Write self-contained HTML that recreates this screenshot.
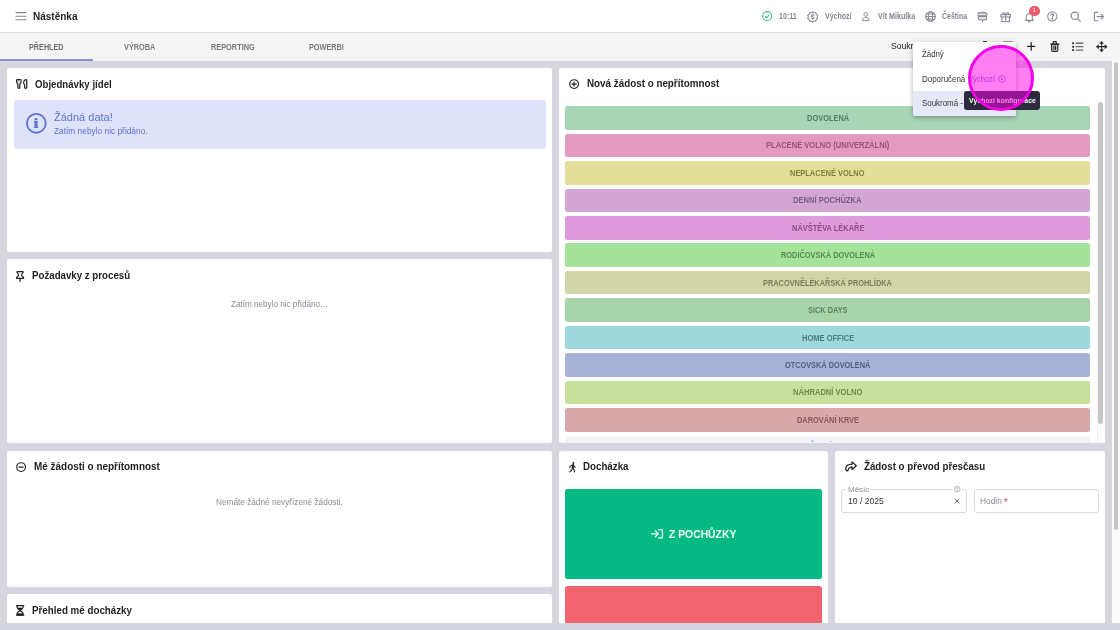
<!DOCTYPE html>
<html lang="cs">
<head>
<meta charset="utf-8">
<title>Nástěnka</title>
<style>
*{box-sizing:border-box;margin:0;padding:0}
html,body{width:1120px;height:630px;overflow:hidden;background:#d6d6e0}
body{font-family:"Liberation Sans",sans-serif;position:relative}
ul{list-style:none}
h1,h2{font-size:inherit;font-weight:inherit}
.t{position:absolute;line-height:1;white-space:nowrap;transform-origin:0 50%;display:block}
.i{position:absolute;display:block;overflow:visible}
.i circle,.i ellipse{stroke-linecap:butt}
.hdr{position:absolute;left:0;top:0;width:1120px;height:32.5px;background:#fff;border-bottom:1px solid #dedede}
.tabs{position:absolute;left:0;top:32.5px;width:1120px;height:28.5px;background:#f5f5f5}
.tabs .ul{position:absolute;left:0;top:26.3px;width:93.3px;height:2.2px;background:#8791cc}
.card{position:absolute;background:#fff;border-radius:2px}
.alert{position:absolute;left:14.3px;top:100.4px;width:531.4px;height:48.2px;background:#dfe3fa;border-radius:3px}
.ab{position:absolute;left:565.3px;width:525px;height:23.6px;border-radius:2.5px}
.sbo{position:absolute;left:1112px;top:61px;width:8px;height:562px;background:#fbfbfb}
.sbo i{position:absolute;left:2px;top:1.4px;width:4.2px;height:468px;border-radius:2.1px;background:#c4c4c4}
.sbi{position:absolute;left:1096.7px;top:100px;width:8.3px;height:343px;background:#fff;border-left:1px solid #f0f0f0}
.sbi i{position:absolute;left:0.6px;top:2px;width:4.6px;height:321.5px;border-radius:2.3px;background:#c5c5c5}
.gbtn{position:absolute;left:565.3px;top:489px;width:257.1px;height:90.1px;background:#05b983;border-radius:2.5px}
.rbtn{position:absolute;left:565.3px;top:586.3px;width:257.1px;height:36.4px;background:#f2646f;border-radius:2.5px 2.5px 0 0}
.fld{position:absolute;top:489.1px;height:24.2px;border:1px solid #dadade;border-radius:3px;background:#fff}
.notch{position:absolute;top:488.5px;height:3px;background:#fff}
.menu{position:absolute;left:912.6px;top:41.6px;width:103.2px;height:74.2px;background:#fff;border-radius:2.5px;box-shadow:0 2px 4px rgba(0,0,0,.2),0 1px 7px rgba(0,0,0,.12)}
.menu .sel{position:absolute;left:0;top:49.6px;width:100%;height:24.6px;background:#e6e8f7;border-radius:0 0 2.5px 2.5px}
.tip{position:absolute;left:964.4px;top:91px;width:75.8px;height:18.6px;background:#2b2b3c;border-radius:3px}
.clk{position:absolute;left:967.8px;top:44.9px;width:66.2px;height:66.2px;border-radius:50%;background:rgba(255,0,232,.5);border:3px solid #f500e4}
.badge{position:absolute;left:1029.2px;top:5.8px;width:10.4px;height:10.4px;border-radius:50%;background:#f0596b}
.tk{position:absolute;top:40.9px;height:1.1px;border-radius:.5px}
.clip13{position:absolute;left:0;top:0;width:525px;height:7.5px;overflow:hidden}
</style>
</head>
<body>

<header class="hdr">
  <svg class="i" style="left:16.00px;top:11.80px;width:10px;height:8.4px;" viewBox="0 0 10 8.400" fill="none" stroke="#858590" stroke-width="1.1" stroke-linecap="round" stroke-linejoin="round"><path d="M0 .6h10M0 4.200h10M0 7.800h10"/></svg>
  <h1><span class="t" style="left:32.70px;top:10.59px;font-size:11.0px;font-weight:700;color:#1f1f1f;transform:scaleX(0.9096);">Nástěnka</span></h1>
  <svg class="i" style="left:761.70px;top:11.20px;width:10.4px;height:10.4px;" viewBox="0 0 24 24" fill="none" stroke="#45b98e" stroke-width="2.5" stroke-linecap="round" stroke-linejoin="round"><circle cx="12" cy="12" r="10.5"/><path d="M7.5 12.3l3.2 3.2 5.8-6.3"/></svg>
  <span class="t" style="left:778.80px;top:12.19px;font-size:8.4px;font-weight:700;color:#858591;transform:scaleX(0.8489);">10:11</span>
  <svg class="i" style="left:806.70px;top:10.60px;width:11.4px;height:11.4px;" viewBox="0 0 24 24" fill="none" stroke="#878796" stroke-width="2.2" stroke-linecap="round" stroke-linejoin="round"><path d="M12 1.6l2.9 2.1 3.6-.1 1.1 3.4 2.9 2.1-1.2 3.4 1.2 3.4-2.9 2.1-1.1 3.4-3.6-.1-2.9 2.1-2.9-2.1-3.6.1-1.1-3.4-2.9-2.1 1.2-3.4-1.2-3.4 2.9-2.100 1.100-3.400 3.600.1z"/><path d="M14.600 9.300c-.4-1-1.400-1.500-2.600-1.500-1.500 0-2.600.8-2.600 2s1 1.700 2.600 2.100 2.700 1 2.700 2.200-1.200 2.100-2.700 2.100c-1.300 0-2.400-.6-2.800-1.700M12 6.200v1.600M12 16.200v1.600"/></svg>
  <span class="t" style="left:824.60px;top:12.19px;font-size:8.4px;font-weight:700;color:#858591;transform:scaleX(0.8340);">Výchozí</span>
  <svg class="i" style="left:861.20px;top:11.10px;width:9.6px;height:10.4px;" viewBox="0 0 24 24" fill="none" stroke="#878796" stroke-width="2.4" stroke-linecap="round" stroke-linejoin="round"><circle cx="12" cy="7.500" r="4.700"/><path d="M3.500 22c0-4.400 3.600-7 8.500-7s8.500 2.600 8.500 7z"/></svg>
  <span class="t" style="left:877.60px;top:12.19px;font-size:8.4px;font-weight:700;color:#858591;transform:scaleX(0.8526);">Vít Mikulka</span>
  <svg class="i" style="left:924.80px;top:10.80px;width:11px;height:11px;" viewBox="0 0 24 24" fill="none" stroke="#878796" stroke-width="2.2" stroke-linecap="round" stroke-linejoin="round"><circle cx="12" cy="12" r="10.500"/><ellipse cx="12" cy="12" rx="4.600" ry="10.500"/><path d="M1.500 12h21M3.200 6.500h17.600M3.200 17.500h17.600"/></svg>
  <span class="t" style="left:941.90px;top:12.19px;font-size:8.4px;font-weight:700;color:#858591;transform:scaleX(0.8293);">Čeština</span>
  <svg class="i" style="left:976.80px;top:10.50px;width:11px;height:11.6px;" viewBox="0 0 24 24" fill="none" stroke="#878796" stroke-width="2.3" stroke-linecap="round" stroke-linejoin="round"><path d="M12 1v2.500M12 18.500v4.500M12 10v1.500M2.500 3.500h17l2.500 3.300-2.500 3.200h-17zM20.500 11.500h-16l-2.500 3.500 2.500 3.500h16z" fill="#e4e4ea"/></svg>
  <svg class="i" style="left:1000.00px;top:10.60px;width:11.4px;height:11.4px;" viewBox="0 0 24 24" fill="none" stroke="#878796" stroke-width="2.3" stroke-linecap="round" stroke-linejoin="round"><rect x="2" y="7.500" width="20" height="5" fill="#ececf1"/><path d="M4 12.500v9.500h16v-9.500M12 7.500V22M12 7.500C10 3 6 2.500 6 5.200s4 2.300 6 2.300zM12 7.500c2-4.500 6-5 6-2.300s-4 2.300-6 2.300z"/></svg>
  <svg class="i" style="left:1023.50px;top:11.70px;width:10.6px;height:10.6px;" viewBox="0 0 24 24" fill="none" stroke="#878796" stroke-width="2.4" stroke-linecap="round" stroke-linejoin="round"><path d="M5 17.500V11c0-4 3-7 7-7s7 3 7 7v6.500l2 1.500H3zM12 4V2M10 21.500c.5.700 1.200 1 2 1s1.500-.3 2-1"/></svg>
  <span class="badge"></span><span class="t" style="left:1033.30px;top:8.26px;font-size:5.6px;font-weight:700;color:#fff;transform:scaleX(0.7680);">1</span>
  <svg class="i" style="left:1047.00px;top:11.10px;width:10.6px;height:10.6px;color:#878796" viewBox="0 0 24 24" fill="none" stroke="#878796" stroke-width="2.4" stroke-linecap="round" stroke-linejoin="round"><circle cx="12" cy="12" r="10.500"/><path d="M8.800 9.500c0-1.900 1.400-3.200 3.200-3.200s3.200 1.300 3.200 3c0 2.200-3.200 2.300-3.200 4.400" stroke-width="2.800"/><circle cx="12" cy="17.500" r="1" fill="currentColor"/></svg>
  <svg class="i" style="left:1070.00px;top:11.00px;width:11px;height:11px;" viewBox="0 0 24 24" fill="none" stroke="#878796" stroke-width="2.5" stroke-linecap="round" stroke-linejoin="round"><circle cx="10.500" cy="10.500" r="8"/><path d="M16.500 16.500L22.500 22.500"/></svg>
  <svg class="i" style="left:1093.20px;top:10.60px;width:11.2px;height:11.2px;" viewBox="0 0 24 24" fill="none" stroke="#878796" stroke-width="2.5" stroke-linecap="round" stroke-linejoin="round"><path d="M10 3H4.500C3.700 3 3 3.700 3 4.500v15c0 .8.700 1.500 1.500 1.500H10M9 12h13M17.500 7l5 5-5 5"/></svg>
</header>

<nav class="tabs">
  <ul>
    <li><span class="t" style="left:29.40px;top:10.09px;font-size:8.4px;font-weight:700;color:#6f6f6f;transform:scaleX(0.8643);">PŘEHLED</span></li>
    <li><span class="t" style="left:124.40px;top:10.09px;font-size:8.4px;font-weight:700;color:#7a7a7a;transform:scaleX(0.8732);">VÝROBA</span></li>
    <li><span class="t" style="left:211.40px;top:10.09px;font-size:8.4px;font-weight:700;color:#7a7a7a;transform:scaleX(0.8776);">REPORTING</span></li>
    <li><span class="t" style="left:309.40px;top:10.09px;font-size:8.4px;font-weight:700;color:#7a7a7a;transform:scaleX(0.8697);">POWERBI</span></li>
  </ul>
  <span class="ul"></span>
  <span class="t" style="left:890.70px;top:9.97px;font-size:8.9px;font-weight:400;color:#222;transform:scaleX(0.9674);">Soukromá - Výchozí</span>
  <svg class="i" style="left:1027.00px;top:9.70px;width:8.40px;height:8.80px;" viewBox="0 0 8.40 8.80" fill="none" stroke="#222" stroke-width="1.25" stroke-linecap="round" stroke-linejoin="round"><path d="M4.200 .6V8.200M.6 4.400H7.800"/></svg>
  <svg class="i" style="left:1049.90px;top:8.50px;width:9.50px;height:11.10px;" viewBox="0 0 9.50 11.10" fill="none" stroke="#222" stroke-width="1.15" stroke-linecap="round" stroke-linejoin="round"><path d="M1.700 3.300H7.800V9.200Q7.800 10.400 6.600 10.400H2.900Q1.700 10.400 1.700 9.200Z" fill="#dadada"/><path d="M.7 3.200H8.800M3.200 3V1.500Q3.200 .7 4 .7H5.500Q6.300 .7 6.300 1.500V3M3.900 5.200V8.400M5.600 5.200V8.400"/></svg>
  <svg class="i" style="left:1072.30px;top:9.50px;width:11.50px;height:9.40px;" viewBox="0 0 11.50 9.40" fill="none" stroke="#222" stroke-width="1.35" stroke-linecap="round" stroke-linejoin="round"><path d="M4.200 1.300H10.900M4.200 4.700H10.900M4.200 8.100H10.900" stroke="#6a6a6a"/><path d="M1.100 1.300h.01M1.100 4.700h.01M1.100 8.100h.01" stroke-width="2.100"/></svg>
  <svg class="i" style="left:1095.80px;top:8.40px;width:11.40px;height:11.20px;" viewBox="0 0 11.40 11.20" fill="none" stroke="#222" stroke-width="1.1" stroke-linecap="round" stroke-linejoin="round"><path d="M5.700 1.500V9.700M1.500 5.600H9.900"/><path d="M5.700 .4L7.500 2.500H3.900ZM5.700 10.800L7.500 8.700H3.900ZM.4 5.600L2.500 3.800V7.400ZM11 5.600L8.900 3.800V7.400Z" fill="#222" stroke-width=".5"/></svg>
</nav>

<main>
  <section class="card" style="left:7.1px;top:67.8px;width:545px;height:183.9px">
    <svg class="i" style="left:9.10px;top:11.10px;width:11.4px;height:10px;" viewBox="0 0 11.400 10" fill="none" stroke="#222" stroke-width="1.25" stroke-linecap="round" stroke-linejoin="round"><path d="M1.300 .65h3.100q.65 0 .65.65v1.700q0 .8-.6 1.300l-.65.6v3.600q0 .85-.95.85t-.95-.85v-3.600l-.65-.6q-.6-.5-.6-1.300v-1.700q0-.65.65-.65z"/><path d="M1 1.200h3.700v1.300h-3.700z" fill="#999" stroke="none"/><path d="M10.750 1.500v7q0 .85-1.050.85t-1.050-.85v-2.200q0-.7-.5-1.200-.55-.6-.55-1.600 0-1.700 1.600-2.600.8-.45 1.200-.1.350.3.350.7z"/></svg>
    <h2><span class="t" style="left:27.60px;top:10.79px;font-size:11.0px;font-weight:700;color:#1f1f1f;transform:scaleX(0.8774);">Objednávky jídel</span></h2>
  </section>
  <div class="alert">
    <svg class="i" style="left:11.80px;top:13.00px;width:20.6px;height:20.6px;" viewBox="0 0 24 24" fill="none" stroke="#5c70d2" stroke-width="2.1" stroke-linecap="round" stroke-linejoin="round"><circle cx="12" cy="12" r="11"/></svg>
    <span class="t" style="left:19.20px;top:16.03px;font-size:14.5px;font-weight:700;color:#5c70d2;transform:scaleX(1.4636);font-family:'Liberation Serif',serif;">i</span>
    <span class="t" style="left:40.00px;top:11.22px;font-size:11.2px;font-weight:400;color:#5c70d2;transform:scaleX(0.9846);">Žádná data!</span>
    <span class="t" style="left:40.00px;top:26.30px;font-size:8.5px;font-weight:400;color:#5c70d2;transform:scaleX(0.9806);">Zatím nebylo nic přidáno.</span>
  </div>

  <section class="card" style="left:7.1px;top:258.9px;width:545px;height:184.2px">
    <svg class="i" style="left:9.00px;top:12.10px;width:8.20px;height:10.80px;" viewBox="0 0 8.20 10.80" fill="none" stroke="#222" stroke-width="1.25" stroke-linecap="round" stroke-linejoin="round"><path d="M1.400 .7H6.800Q7.500 .7 7.100 1.400Q5.200 3.400 5.700 4.600L7.500 6.500Q7.900 7.500 7 7.500H1.200Q.3 7.500 .7 6.500L2.500 4.600Q3 3.400 1.100 1.400Q.7 .7 1.400 .7ZM4.100 7.500V10.300"/></svg>
    <h2><span class="t" style="left:24.80px;top:10.79px;font-size:11.0px;font-weight:700;color:#1f1f1f;transform:scaleX(0.8816);">Požadavky z procesů</span></h2>
    <span class="t" style="left:223.90px;top:40.92px;font-size:8.6px;font-weight:400;color:#8a8a96;transform:scaleX(0.9454);">Zatím nebylo nic přidáno…</span>
  </section>

  <section class="card" style="left:7.1px;top:450.5px;width:545px;height:136.6px">
    <svg class="i" style="left:9.30px;top:11.40px;width:10.2px;height:10.2px;" viewBox="0 0 24 24" fill="none" stroke="#222" stroke-width="2.7" stroke-linecap="round" stroke-linejoin="round"><circle cx="12" cy="12" r="10.300"/><path d="M7 12h10"/></svg>
    <h2><span class="t" style="left:27.00px;top:10.59px;font-size:11.0px;font-weight:700;color:#1f1f1f;transform:scaleX(0.9035);">Mé žádosti o nepřítomnost</span></h2>
    <span class="t" style="left:208.90px;top:47.12px;font-size:8.6px;font-weight:400;color:#8a8a96;transform:scaleX(0.9590);">Nemáte žádné nevyřízené žádosti.</span>
  </section>

  <section class="card" style="left:7.1px;top:593.9px;width:545px;height:29.2px;border-radius:2.5px 2.5px 0 0">
    <svg class="i" style="left:9.00px;top:11.00px;width:8.20px;height:10.80px;" viewBox="0 0 8.20 10.80" fill="none" stroke="#222" stroke-width="1.15" stroke-linecap="round" stroke-linejoin="round"><path d="M.4 .6H7.800M.4 10.200H7.800M1.100 .6V2.500Q1.100 3.600 4.100 5.400Q7.100 3.600 7.100 2.500V.6M1.100 10.200V8.300Q1.100 7.200 4.100 5.400Q7.100 7.200 7.100 8.300V10.200"/><path d="M1.700 3H6.500Q5.500 4.200 4.100 5Q2.700 4.200 1.700 3ZM1.300 10V8.700H6.900V10Z" fill="#111" stroke-width=".6"/></svg>
    <h2><span class="t" style="left:24.80px;top:10.69px;font-size:11.0px;font-weight:700;color:#1f1f1f;transform:scaleX(0.8889);">Přehled mé docházky</span></h2>
  </section>

  <section class="card" style="left:559.4px;top:67.8px;width:545.4px;height:375.3px"></section>
  <svg class="i" style="left:568.80px;top:79.10px;width:10.2px;height:10.2px;" viewBox="0 0 24 24" fill="none" stroke="#222" stroke-width="2.7" stroke-linecap="round" stroke-linejoin="round"><circle cx="12" cy="12" r="10.300"/><path d="M7 12h10M12 7v10"/></svg>
  <h2><span class="t" style="left:586.60px;top:78.09px;font-size:11.0px;font-weight:700;color:#1f1f1f;transform:scaleX(0.8938);">Nová žádost o nepřítomnost</span></h2>
  <ul>
<li class="ab" style="top:106.15px;background:#a8d5b7"><span class="t" style="left:241.40px;top:7.82px;font-size:8.6px;font-weight:700;color:#4f7d62;transform:scaleX(0.8665);">DOVOLENÁ</span></li>
<li class="ab" style="top:133.60px;background:#e29bbf"><span class="t" style="left:200.70px;top:7.82px;font-size:8.6px;font-weight:700;color:#9a4f78;transform:scaleX(0.8814);">PLACENÉ VOLNO (UNIVERZÁLNÍ)</span></li>
<li class="ab" style="top:161.05px;background:#e3df9b"><span class="t" style="left:225.10px;top:7.82px;font-size:8.6px;font-weight:700;color:#827e42;transform:scaleX(0.8668);">NEPLACENÉ VOLNO</span></li>
<li class="ab" style="top:188.50px;background:#d3a6d6"><span class="t" style="left:228.00px;top:7.82px;font-size:8.6px;font-weight:700;color:#7a5a80;transform:scaleX(0.8801);">DENNÍ POCHŮZKA</span></li>
<li class="ab" style="top:215.95px;background:#df9bdb"><span class="t" style="left:226.30px;top:7.82px;font-size:8.6px;font-weight:700;color:#884e86;transform:scaleX(0.8664);">NÁVŠTĚVA LÉKAŘE</span></li>
<li class="ab" style="top:243.40px;background:#a7e29b"><span class="t" style="left:215.40px;top:7.82px;font-size:8.6px;font-weight:700;color:#57884e;transform:scaleX(0.8615);">RODIČOVSKÁ DOVOLENÁ</span></li>
<li class="ab" style="top:270.85px;background:#d1d5a8"><span class="t" style="left:198.00px;top:7.82px;font-size:8.6px;font-weight:700;color:#7a7d56;transform:scaleX(0.8598);">PRACOVNĚLÉKAŘSKÁ PROHLÍDKA</span></li>
<li class="ab" style="top:298.30px;background:#a7d5a9"><span class="t" style="left:242.50px;top:7.82px;font-size:8.6px;font-weight:700;color:#57805e;transform:scaleX(0.8584);">SICK DAYS</span></li>
<li class="ab" style="top:325.75px;background:#9dd8dc"><span class="t" style="left:236.30px;top:7.82px;font-size:8.6px;font-weight:700;color:#4a7b82;transform:scaleX(0.8746);">HOME OFFICE</span></li>
<li class="ab" style="top:353.20px;background:#a8b1d6"><span class="t" style="left:219.80px;top:7.82px;font-size:8.6px;font-weight:700;color:#555b84;transform:scaleX(0.8547);">OTCOVSKÁ DOVOLENÁ</span></li>
<li class="ab" style="top:380.65px;background:#c8e09b"><span class="t" style="left:227.70px;top:7.82px;font-size:8.6px;font-weight:700;color:#6d8848;transform:scaleX(0.8822);">NÁHRADNÍ VOLNO</span></li>
<li class="ab" style="top:408.10px;background:#d8a8aa"><span class="t" style="left:231.30px;top:7.82px;font-size:8.6px;font-weight:700;color:#83565a;transform:scaleX(0.8617);">DAROVÁNÍ KRVE</span></li>
<li class="ab" style="top:435.55px;background:#f3f3f7;height:7.5px;border-radius:2px 2px 0 0"><span class="clip13"><span class="t" style="left:231.20px;top:6.32px;font-size:8.6px;font-weight:700;color:#8890d6;transform:scaleX(0.8288);">SLUŽEBNÍ CESTA</span></span></li>
  </ul>
  <div class="sbi"><i></i></div>

  <section class="card" style="left:559.4px;top:450.5px;width:269px;height:172.5px;border-radius:2.5px 2.5px 0 0"></section>
  <svg class="i" style="left:568.70px;top:461.60px;width:6.70px;height:10.50px;" viewBox="0 0 6.70 10.50" fill="none" stroke="#222" stroke-width="1.1" stroke-linecap="round" stroke-linejoin="round"><circle cx="4.400" cy="1" r=".95" fill="#222" stroke="none"/><path d="M4.200 3L3.700 6.200" stroke-width="1.900"/><path d="M3.800 3L1.100 4.300L.8 5.700M4.600 3.400L5.500 4.900L6.200 5.300M3.600 6.300L2.400 8.500L.8 9.900M3.900 6.200L5.100 7.800L5.500 9.900" stroke-width="1.100"/></svg>
  <h2><span class="t" style="left:582.90px;top:460.79px;font-size:11.0px;font-weight:700;color:#1f1f1f;transform:scaleX(0.8859);">Docházka</span></h2>
  <div class="gbtn"></div>
  <svg class="i" style="left:651.00px;top:529.40px;width:12.20px;height:9.80px;" viewBox="0 0 12.20 9.80" fill="none" stroke="#f2fff9" stroke-width="1.3" stroke-linecap="round" stroke-linejoin="round"><path d="M.6 4.800H7.200M4.400 1.900L7.300 4.800L4.400 7.700M7.600 .7H10.300Q11.500 .7 11.500 1.900V7.700Q11.500 8.900 10.300 8.900H7.600"/></svg>
  <span class="t" style="left:668.90px;top:528.52px;font-size:11.2px;font-weight:700;color:#f4fffa;transform:scaleX(0.9255);">Z POCHŮZKY</span>
  <div class="rbtn"></div>

  <section class="card" style="left:835.4px;top:450.5px;width:269.2px;height:172.5px;border-radius:2.5px 2.5px 0 0"></section>
  <svg class="i" style="left:844.50px;top:461.30px;width:12.10px;height:10.60px;" viewBox="0 0 12.10 10.60" fill="none" stroke="#222" stroke-width="1.25" stroke-linecap="round" stroke-linejoin="round"><path d="M7.100 .9L11.300 4.700L7.100 8.500V6.200Q3.700 6.100 2.800 9.800Q.7 9.900 .7 7.600Q.9 3.400 7.100 3.200Z"/></svg>
  <h2><span class="t" style="left:863.80px;top:460.79px;font-size:11.0px;font-weight:700;color:#1f1f1f;transform:scaleX(0.8851);">Žádost o převod přesčasu</span></h2>
  <div class="fld" style="left:841.3px;width:125.5px"></div>
  <span class="notch" style="left:845.8px;width:24.6px"></span>
  <span class="notch" style="left:952.4px;width:9.6px"></span>
  <span class="t" style="left:847.50px;top:485.74px;font-size:7.4px;font-weight:400;color:#8a8a9a;transform:scaleX(1.0802);">Měsíc</span>
  <svg class="i" style="left:954.00px;top:486.40px;width:6.4px;height:6.4px;" viewBox="0 0 24 24" fill="none" stroke="#8a8a9a" stroke-width="2.2" stroke-linecap="round" stroke-linejoin="round"><circle cx="12" cy="12" r="10.500"/><path d="M9 9.500c0-1.700 1.300-3 3-3s3 1.300 3 2.900c0 2.100-3 2.300-3 4.600M12 17.200v.5"/></svg>
  <span class="t" style="left:847.50px;top:496.72px;font-size:8.6px;font-weight:400;color:#333;transform:scaleX(0.9988);">10 / 2025</span>
  <svg class="i" style="left:954.00px;top:498.40px;width:6.2px;height:6.2px;" viewBox="0 0 24 24" fill="none" stroke="#555" stroke-width="3.6" stroke-linecap="round" stroke-linejoin="round"><path d="M4 4l16 16M20 4L4 20"/></svg>
  <div class="fld" style="left:973.5px;width:125.3px"></div>
  <span class="t" style="left:979.50px;top:497.22px;font-size:8.6px;font-weight:400;color:#8a8a9a;transform:scaleX(0.9702);">Hodin</span>
  <span class="t" style="left:1003.80px;top:497.41px;font-size:10.5px;font-weight:400;color:#e0475a;transform:scaleX(0.9282);">*</span>
</main>

<div class="sbo"><i></i></div>

<i class="tk" style="left:982.9px;width:3.7px;background:#333"></i><i class="tk" style="left:1003px;width:10.1px;background:#9a9a9a"></i>
<div class="menu" role="menu">
  <div class="sel"></div>
  <span class="t" style="left:9.10px;top:8.44px;font-size:8.7px;font-weight:400;color:#333;transform:scaleX(0.9025);">Žádný</span>
  <span class="t" style="left:9.10px;top:33.04px;font-size:8.7px;font-weight:400;color:#333;transform:scaleX(0.9146);">Doporučená</span>
  <span class="t" style="left:55.40px;top:33.04px;font-size:8.7px;font-weight:400;color:#7b60d8;transform:scaleX(0.8736);">Výchozí</span>
  <svg class="i" style="left:85.80px;top:33.10px;width:8px;height:8px;color:#7b60d8" viewBox="0 0 24 24" fill="none" stroke="#7b60d8" stroke-width="2.2" stroke-linecap="round" stroke-linejoin="round"><circle cx="12" cy="12" r="10"/><circle cx="12" cy="12" r="3" fill="currentColor" stroke="none"/></svg>
  <span class="t" style="left:9.10px;top:57.44px;font-size:8.7px;font-weight:400;color:#333;transform:scaleX(0.9115);">Soukromá - Výchozí</span>
</div>
<div class="tip" role="tooltip"><span class="t" style="left:4.20px;top:5.53px;font-size:8.0px;font-weight:700;color:#fff;transform:scaleX(0.8586);">Výchozí konfigurace</span></div>
<div class="clk"></div>

</body>
</html>
